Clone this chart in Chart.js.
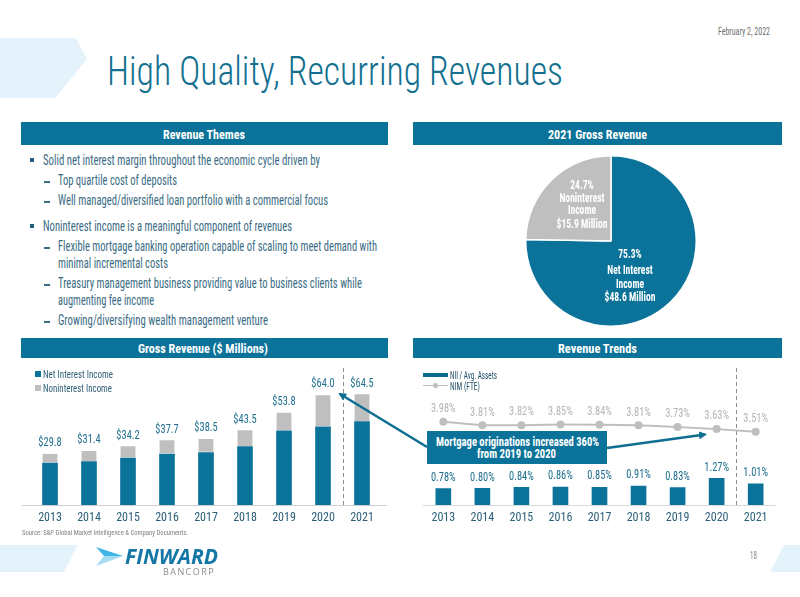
<!DOCTYPE html>
<html>
<head>
<meta charset="utf-8">
<script src="https://cdn.jsdelivr.net/npm/chart.js@4.4.0/dist/chart.umd.min.js"></script>
<style>
  body { margin: 0; width: 800px; height: 597px; position: relative; overflow: hidden; background: #fff; font-family: 'Roboto Condensed', sans-serif; }
  .t { position: absolute; white-space: nowrap; line-height: 1; transform-origin: 0 50%; }
  .hdr { position: absolute; background: #0b7399; }
  .hdr-t { color: #fff; font-weight: 700; font-size: 13px; }
  .body { color: #3a6c84; font-size: 14px; }
  .sq { position: absolute; width: 4px; height: 4px; background: #1f5f7a; }
  .dash { position: absolute; width: 6px; height: 1.5px; background: #3a6c84; }
  canvas { position: absolute; }
  svg { position: absolute; left: 0; top: 0; }
</style>
</head>
<body>

<svg width="800" height="597">
  <polygon points="0,38 76,38 87,59 55,98 0,98" fill="#e4f3fb"/>
  <polygon points="0,545 78,545 64,572 0,572" fill="#e4f3fb"/>
  <polygon points="784,545 800,545 800,572 770,572" fill="#e4f3fb"/>
  <polygon points="96,547 123,556 104,556" fill="#3fb4e6"/>
  <polygon points="104,556 123,556 96,566" fill="#a6daf2"/>
</svg>

<div class="t" style="left:718px;top:32px;font-size:10px;color:#6f6f6f" data-w="52">February 2, 2022</div>
<div class="t" style="left:107px;top:71px;font-size:41px;font-weight:300;color:#13708f" data-w="456">High Quality, Recurring Revenues</div>

<div class="hdr" style="left:21px;top:122px;width:367px;height:23px"></div>
<div class="hdr" style="left:413px;top:122px;width:369px;height:23px"></div>
<div class="hdr" style="left:21px;top:338px;width:367px;height:20px"></div>
<div class="hdr" style="left:413px;top:338px;width:369px;height:20px"></div>
<div class="t hdr-t" style="left:163px;top:134px" data-w="82">Revenue Themes</div>
<div class="t hdr-t" style="left:548px;top:134px" data-w="99">2021 Gross Revenue</div>
<div class="t hdr-t" style="left:138px;top:348px" data-w="130">Gross Revenue ($ Millions)</div>
<div class="t hdr-t" style="left:558px;top:348px" data-w="79">Revenue Trends</div>

<div class="sq" style="left:30px;top:158px"></div>
<div class="t body" style="left:43px;top:160px" data-w="277">Solid net interest margin throughout the economic cycle driven by</div>
<div class="dash" style="left:44px;top:181px"></div>
<div class="t body" style="left:58px;top:180px" data-w="119">Top quartile cost of deposits</div>
<div class="dash" style="left:44px;top:201px"></div>
<div class="t body" style="left:58px;top:200px" data-w="270">Well managed/diversified loan portfolio with a commercial focus</div>
<div class="sq" style="left:30px;top:224px"></div>
<div class="t body" style="left:43px;top:226px" data-w="249">Noninterest income is a meaningful component of revenues</div>
<div class="dash" style="left:44px;top:247px"></div>
<div class="t body" style="left:58px;top:246px" data-w="319">Flexible mortgage banking operation capable of scaling to meet demand with</div>
<div class="t body" style="left:58px;top:263px" data-w="110">minimal incremental costs</div>
<div class="dash" style="left:44px;top:284px"></div>
<div class="t body" style="left:58px;top:283px" data-w="304">Treasury management business providing value to business clients while</div>
<div class="t body" style="left:58px;top:300px" data-w="96">augmenting fee income</div>
<div class="dash" style="left:44px;top:321px"></div>
<div class="t body" style="left:58px;top:320px" data-w="210">Growing/diversifying wealth management venture</div>

<canvas id="pieChart" width="172" height="172" style="left:525px;top:155px"></canvas>
<canvas id="grossChart" width="367" height="170" style="left:21px;top:360px"></canvas>
<canvas id="trendChart" width="369" height="170" style="left:413px;top:360px"></canvas>

<div style="position:absolute;left:35px;top:371px;width:6px;height:6px;background:#0b7399"></div>
<div class="t" style="left:43px;top:374px;font-size:11px;color:#2e5f75" data-w="70">Net Interest Income</div>
<div style="position:absolute;left:35px;top:385px;width:6px;height:6px;background:#bfbfbf"></div>
<div class="t" style="left:43px;top:388px;font-size:11px;color:#2e5f75" data-w="69">Noninterest Income</div>

<div style="position:absolute;left:423px;top:373px;width:25px;height:3.5px;background:#0b6b8f"></div>
<div class="t" style="left:450px;top:375px;font-size:11px;color:#1e4e66" data-w="47">NII / Avg. Assets</div>
<div style="position:absolute;left:423px;top:384.5px;width:25px;height:1.5px;background:#bfbfbf"></div>
<div style="position:absolute;left:433px;top:383px;width:4.5px;height:4.5px;border-radius:50%;background:#bfbfbf"></div>
<div class="t" style="left:450px;top:386px;font-size:11px;color:#1e4e66" data-w="30">NIM (FTE)</div>

<div style="position:absolute;left:427px;top:431px;width:180px;height:33px;background:#0b7399"></div>
<div class="t" style="left:436px;top:442px;font-size:12.5px;font-weight:700;color:#fff" data-w="163">Mortgage originations increased 360%</div>
<div class="t" style="left:477px;top:454px;font-size:12.5px;font-weight:700;color:#fff" data-w="79">from 2019 to 2020</div>

<svg width="800" height="597" style="pointer-events:none">
  <defs>
    <marker id="ah" markerWidth="8" markerHeight="8" refX="6" refY="4" orient="auto" markerUnits="userSpaceOnUse">
      <path d="M0,0 L8,4 L0,8 z" fill="#0d6e91"/>
    </marker>
  </defs>
  <line x1="427" y1="447" x2="340" y2="394" stroke="#0d6e91" stroke-width="2.5" marker-end="url(#ah)"/>
  <line x1="607" y1="448" x2="705" y2="434.5" stroke="#0d6e91" stroke-width="2.5" marker-end="url(#ah)"/>
</svg>

<div class="t" style="left:22px;top:533px;font-size:7.5px;color:#808080" data-w="166">Source: S&amp;P Global Market Intelligence &amp; Company Documents.</div>
<div class="t" style="left:125px;top:556px;font-size:21px;font-weight:700;font-style:italic;font-family:'Open Sans',sans-serif;color:#1577a5" data-w="93">FINWARD</div>
<div class="t" style="left:163px;top:572px;font-size:9.5px;letter-spacing:1.5px;font-family:'Open Sans',sans-serif;color:#8a8a8a" data-w="52">BANCORP</div>
<div class="t" style="left:750px;top:556px;font-size:10px;color:#888" data-w="7">18</div>

<script>
// fit each text to the width it has on the slide
document.querySelectorAll('[data-w]').forEach(el => {
  const nat = el.getBoundingClientRect().width;
  el.style.transform = `translateY(-50%) scaleX(${el.dataset.w / nat})`;
});

const years = ['2013', '2014', '2015', '2016', '2017', '2018', '2019', '2020', '2021'];
const netInterest = [24.4, 25.3, 27.3, 29.7, 30.6, 34.0, 43.2, 45.6, 48.6];
const nonInterest = [5.4, 6.1, 6.9, 8.0, 7.9, 9.5, 10.6, 18.4, 15.9];
const grossTotals = [29.8, 31.4, 34.2, 37.7, 38.5, 43.5, 53.8, 64.0, 64.5];
const niiAvgAssets = [0.78, 0.80, 0.84, 0.86, 0.85, 0.91, 0.83, 1.27, 1.01];
const nimFte = [3.98, 3.81, 3.82, 3.85, 3.84, 3.81, 3.73, 3.63, 3.51];
const pieNames = ['Net Interest Income', 'Noninterest Income'];
const pieShares = [75.3, 24.7];
const pieAmounts = [48.6, 15.9];

const TEAL = '#0b7399';
const GRAY = '#bfbfbf';
const FONT = "'Roboto Condensed', sans-serif";

Chart.defaults.font.family = FONT;
Chart.defaults.animation = false;
Chart.defaults.plugins.legend.display = false;
Chart.defaults.plugins.tooltip.enabled = false;

function squeezeText(ctx, text, x, y, font, color, sx) {
  ctx.save();
  ctx.font = font;
  ctx.fillStyle = color;
  ctx.textAlign = 'center';
  ctx.textBaseline = 'middle';
  ctx.translate(x, y);
  ctx.scale(sx, 1);
  ctx.fillText(text, 0, 0);
  ctx.restore();
}

function dashedDivider(chart, yTop) {
  const x = chart.scales.x;
  const xm = Math.round((x.getPixelForValue(7) + x.getPixelForValue(8)) / 2) + 0.5;
  const y0 = chart.scales.y.getPixelForValue(0);
  const ctx = chart.ctx;
  ctx.save();
  ctx.strokeStyle = '#8c8c8c';
  ctx.lineWidth = 1;
  ctx.setLineDash([4, 3]);
  ctx.beginPath();
  ctx.moveTo(xm, yTop);
  ctx.lineTo(xm, y0);
  ctx.stroke();
  ctx.restore();
}

const fixedAxis = scale => { scale.height = 25; };

/* 2021 gross revenue pie */
const pieSpots = [
  { dx: 19, ys: [13.7, 30.3, 43.7, 57] },
  { dx: -29, ys: [-54.7, -42.3, -29.7, -16.3] }
];
const pieText = {
  id: 'pieText',
  afterDatasetsDraw(chart) {
    chart.getDatasetMeta(0).data.forEach((arc, i) => {
      const name = pieNames[i];
      const cut = name.lastIndexOf(' ');
      const lines = [pieShares[i].toFixed(1) + '%', name.slice(0, cut), name.slice(cut + 1), '$' + pieAmounts[i].toFixed(1) + ' Million'];
      lines.forEach((txt, k) => {
        squeezeText(chart.ctx, txt, arc.x + pieSpots[i].dx, arc.y + pieSpots[i].ys[k], "bold 12px " + FONT, '#fff', 0.8);
      });
    });
  }
};
new Chart(document.getElementById('pieChart'), {
  type: 'pie',
  data: {
    labels: pieNames,
    datasets: [{ data: pieShares, backgroundColor: [TEAL, GRAY], borderColor: '#fff', borderWidth: 1.5 }]
  },
  options: { responsive: false, layout: { padding: 0 } },
  plugins: [pieText]
});

/* gross revenue stacked bars */
const grossDecor = {
  id: 'grossDecor',
  beforeDatasetsDraw(chart) {
    dashedDivider(chart, 8);
    const ctx = chart.ctx;
    const y0 = Math.round(chart.scales.y.getPixelForValue(0)) + 0.5;
    ctx.save();
    ctx.strokeStyle = '#d0d0d0';
    ctx.lineWidth = 1;
    ctx.beginPath();
    ctx.moveTo(1, y0);
    ctx.lineTo(chart.width - 1, y0);
    ctx.stroke();
    ctx.restore();
  },
  afterDatasetsDraw(chart) {
    chart.getDatasetMeta(1).data.forEach((bar, i) => {
      squeezeText(chart.ctx, '$' + grossTotals[i].toFixed(1), bar.x, bar.y - 11, "13px " + FONT, '#1f6f8e', 0.8);
    });
  }
};
new Chart(document.getElementById('grossChart'), {
  type: 'bar',
  data: {
    labels: years,
    datasets: [
      { label: 'Net Interest Income', data: netInterest, backgroundColor: TEAL, barThickness: 15 },
      { label: 'Noninterest Income', data: nonInterest, backgroundColor: GRAY, borderColor: '#fff', borderWidth: { bottom: 1 }, borderSkipped: false, barThickness: 15 }
    ]
  },
  options: {
    responsive: false,
    layout: { padding: { left: 9.5, right: 6.5, top: 0, bottom: 0 } },
    scales: {
      x: {
        stacked: true,
        grid: { display: false, drawTicks: false },
        border: { display: false },
        ticks: { color: '#2b5f78', font: { size: 12 }, padding: 6 },
        afterFit: fixedAxis
      },
      y: { stacked: true, display: false, min: 0, max: 84.5 }
    }
  },
  plugins: [grossDecor]
});

/* revenue trends: NII / avg assets bars + NIM line */
const trendDecor = {
  id: 'trendDecor',
  beforeDatasetsDraw(chart) {
    dashedDivider(chart, 8);
  },
  afterDatasetsDraw(chart) {
    const ctx = chart.ctx;
    chart.getDatasetMeta(0).data.forEach((bar, i) => {
      squeezeText(ctx, niiAvgAssets[i].toFixed(2) + '%', bar.x, bar.y - 11, "13px " + FONT, '#1f6f8e', 0.8);
    });
    chart.getDatasetMeta(1).data.forEach((pt, i) => {
      squeezeText(ctx, nimFte[i].toFixed(2) + '%', pt.x, pt.y - 13, "13px " + FONT, '#b5b5b5', 0.8);
    });
  }
};
new Chart(document.getElementById('trendChart'), {
  type: 'bar',
  data: {
    labels: years,
    datasets: [
      { type: 'bar', label: 'NII / Avg. Assets', data: niiAvgAssets, backgroundColor: TEAL, barThickness: 15, order: 2 },
      { type: 'line', label: 'NIM (FTE)', data: nimFte, borderColor: GRAY, borderWidth: 2, pointRadius: 3, pointBackgroundColor: GRAY, pointBorderColor: GRAY, order: 1 }
    ]
  },
  options: {
    responsive: false,
    layout: { padding: { left: 10.8, right: 6.8, top: 0, bottom: 0 } },
    scales: {
      x: {
        grid: { display: false, drawTicks: false },
        border: { display: true, color: '#d9d9d9' },
        ticks: { color: '#2b5f78', font: { size: 12 }, padding: 6 },
        afterFit: fixedAxis
      },
      y: { display: false, min: 0, max: 6.65 }
    }
  },
  plugins: [trendDecor]
});
</script>
</body>
</html>
